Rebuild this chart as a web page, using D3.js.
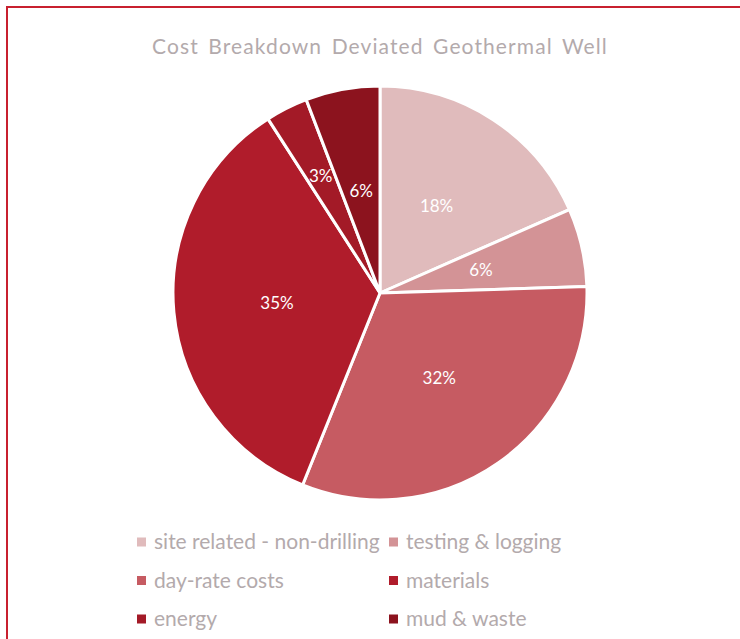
<!DOCTYPE html>
<html>
<head>
<meta charset="utf-8">
<script src="https://cdn.jsdelivr.net/npm/d3@7"></script>
<style>
  body { margin: 0; background: #fff; }
  svg { display: block; font-family: Lato, "Open Sans", sans-serif; }
</style>
</head>
<body>
<div id="pie"></div>
<script>
// data (percent of total cost)
var categories = ["site related - non-drilling", "testing & logging", "day-rate costs", "materials", "energy", "mud & waste"];
var values = [18.4, 6.1, 31.6, 34.8, 3.3, 5.8];
var labels = ["18%", "6%", "32%", "35%", "3%", "6%"];
var colors = ["#e0bbbc", "#d39396", "#c65b62", "#b01c2b", "#a31a27", "#8c131e"];

var width = 740
var height = 639
var cx = 380, cy = 293
var radius = 207

var svg = d3.select("#pie")
    .append("svg")
    .attr("width", width)
    .attr("height", height);

// frame (only top and left edges visible)
svg.append("line").attr("x1", 7).attr("y1", 7).attr("x2", width).attr("y2", 7)
    .attr("stroke", "#c8202f").attr("stroke-width", 2);
svg.append("line").attr("x1", 7).attr("y1", 6).attr("x2", 7).attr("y2", height)
    .attr("stroke", "#c8202f").attr("stroke-width", 2);

// title
svg.append("text")
    .attr("x", cx)
    .attr("y", 54)
    .attr("text-anchor", "middle")
    .style("font-size", "21px")
    .style("letter-spacing", "1.1px")
    .style("word-spacing", "3px")
    .style("fill", "#b3aaac")
    .text("Cost Breakdown Deviated Geothermal Well");

var color = d3.scaleOrdinal().domain(categories).range(colors);

var table = categories.map(function (c, i) { return { key: c, value: values[i], label: labels[i] }; });

var pie = d3.pie()
    .sort(null)
    .value(function (d) { return d.value; });
var data_ready = pie(table);

var arcGenerator = d3.arc()
    .innerRadius(0)
    .outerRadius(radius);

var g = svg.append("g")
    .attr("transform", "translate(" + cx + "," + cy + ")");

g.selectAll("path")
    .data(data_ready)
    .enter()
    .append("path")
    .attr("d", arcGenerator)
    .attr("fill", function (d) { return color(d.data.key); })
    .attr("stroke", "white")
    .style("stroke-width", "3px");

// small slices get their label pushed out a bit, like Excel does
var outerLabelArc = d3.arc().innerRadius(radius * 0.635).outerRadius(radius * 0.635);

g.selectAll("text.lbl")
    .data(data_ready)
    .enter()
    .append("text")
    .attr("class", "lbl")
    .text(function (d) { return d.data.label; })
    .attr("transform", function (d) {
        var p = d.data.value < 5 ? outerLabelArc.centroid(d) : arcGenerator.centroid(d);
        return "translate(" + p + ")";
    })
    .attr("dy", "0.35em")
    .style("text-anchor", "middle")
    .style("font-size", "17px")
    .style("fill", "white");

// legend, two columns
var legend = svg.append("g");
var item = legend.selectAll("g")
    .data(categories)
    .enter()
    .append("g")
    .attr("transform", function (d, i) {
        var col = i % 2, row = Math.floor(i / 2);
        return "translate(" + (col ? 389 : 137) + "," + (542 + row * 38.5) + ")";
    });

item.append("rect")
    .attr("x", 0).attr("y", -4.5)
    .attr("width", 9).attr("height", 9)
    .attr("fill", function (d) { return color(d); });

item.append("text")
    .attr("x", 17)
    .attr("dy", "0.35em")
    .style("font-size", "21px")
    .style("fill", "#b3aaac")
    .text(function (d) { return d; });
</script>
</body>
</html>
